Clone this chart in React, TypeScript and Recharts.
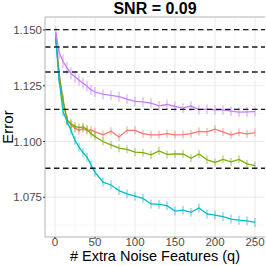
import {
  ComposedChart,
  Line,
  XAxis,
  YAxis,
  ReferenceLine,
  ErrorBar,
} from "recharts";

// number of extra noise features
const qValues = [1, 5, 10, 15, 20, 25, 30, 35, 40, 45, 50, 60, 70, 80, 90, 100, 110, 120, 130, 140, 150, 160, 170, 180, 190, 200, 210, 220, 230, 240, 250];

const redValues = [1.1465, 1.131, 1.119, 1.11, 1.1075, 1.106, 1.105, 1.1058, 1.105, 1.1052, 1.1044, 1.103, 1.1046, 1.102, 1.105, 1.105, 1.1035, 1.103, 1.103, 1.1035, 1.103, 1.1031, 1.1035, 1.1045, 1.1043, 1.1055, 1.1043, 1.103, 1.104, 1.1034, 1.104];
const redErr = [0.002, 0.0022, 0.0022, 0.002, 0.002, 0.0019, 0.0019, 0.0018, 0.0018, 0.0018, 0.0018, 0.0018, 0.0018, 0.0018, 0.0018, 0.0018, 0.0018, 0.0018, 0.0018, 0.0018, 0.0018, 0.0018, 0.0018, 0.0018, 0.0018, 0.0018, 0.0018, 0.0018, 0.0018, 0.0018, 0.0018];

const greenValues = [1.1465, 1.13, 1.118, 1.1095, 1.108, 1.1068, 1.1062, 1.1065, 1.1055, 1.1035, 1.1022, 1.1, 1.0985, 1.097, 1.0965, 1.0952, 1.095, 1.094, 1.0958, 1.0942, 1.0944, 1.0944, 1.0925, 1.0944, 1.0918, 1.0906, 1.092, 1.0909, 1.092, 1.09, 1.0892];
const greenErr = [0.002, 0.0022, 0.0022, 0.002, 0.002, 0.0019, 0.0019, 0.0019, 0.0019, 0.0018, 0.0018, 0.0018, 0.0018, 0.0018, 0.0018, 0.0018, 0.0018, 0.0018, 0.0018, 0.0018, 0.0018, 0.0018, 0.0018, 0.0018, 0.0018, 0.0018, 0.0018, 0.0018, 0.0018, 0.0018, 0.0018];

const tealValues = [1.146, 1.128, 1.1135, 1.109, 1.105, 1.1005, 1.0975, 1.095, 1.093, 1.0895, 1.0862, 1.0818, 1.0805, 1.078, 1.0765, 1.0755, 1.0745, 1.072, 1.0718, 1.0712, 1.0688, 1.0692, 1.0682, 1.0702, 1.0675, 1.067, 1.0663, 1.0652, 1.0647, 1.0644, 1.0637];
const tealErr = [0.002, 0.0022, 0.0022, 0.0021, 0.002, 0.002, 0.002, 0.002, 0.002, 0.002, 0.002, 0.002, 0.002, 0.002, 0.002, 0.002, 0.002, 0.002, 0.002, 0.002, 0.002, 0.002, 0.002, 0.002, 0.002, 0.002, 0.002, 0.002, 0.002, 0.002, 0.002];

const purpleValues = [1.1492, 1.14, 1.136, 1.133, 1.1305, 1.129, 1.1275, 1.1262, 1.1248, 1.1232, 1.1222, 1.1212, 1.1207, 1.1201, 1.119, 1.118, 1.1178, 1.1172, 1.116, 1.1166, 1.1157, 1.115, 1.1159, 1.1143, 1.1145, 1.1142, 1.1142, 1.1136, 1.1132, 1.1133, 1.1134];
const purpleErr = [0.0025, 0.003, 0.003, 0.0028, 0.0027, 0.0026, 0.0025, 0.0024, 0.0024, 0.0023, 0.0022, 0.0022, 0.0022, 0.0022, 0.0022, 0.0022, 0.0022, 0.0022, 0.0022, 0.0022, 0.0022, 0.0022, 0.0022, 0.0022, 0.0022, 0.0022, 0.0022, 0.0022, 0.0022, 0.0022, 0.0022];

// dashed reference levels
const dashedLevels = [1.1502, 1.1424, 1.1312, 1.1144, 1.088];

const xTicks = [0, 50, 100, 150, 200, 250];
const xMinor = [25, 75, 125, 175, 225];
const yTicks = [1.075, 1.1, 1.125, 1.15];
const yMinor = [1.0625, 1.0875, 1.1125, 1.1375];

const xDomain = [-12.5, 262.5];
const yDomain = [1.05717, 1.15584];

const data = qValues.map((q, i) => ({
  q,
  red: redValues[i],
  redErr: redErr[i],
  green: greenValues[i],
  greenErr: greenErr[i],
  teal: tealValues[i],
  tealErr: tealErr[i],
  purple: purpleValues[i],
  purpleErr: purpleErr[i],
}));

const series = [
  { key: "red", color: "#F8766D" },
  { key: "green", color: "#7CAE00" },
  { key: "teal", color: "#00BFC4" },
  { key: "purple", color: "#C77CFF" },
];

const font = '"Liberation Sans", Arial, sans-serif';

export default function App() {
  return (
    <div style={{ position: "absolute", left: 0, top: 0, width: 266, height: 266, background: "#fff", fontFamily: font }}>
      <ComposedChart
        width={266}
        height={266}
        data={data}
        margin={{ top: 17, right: 1, bottom: 0, left: 0 }}
      >
        {/* grid, minor then major */}
        {xMinor.map((v) => (
          <ReferenceLine key={"xm" + v} x={v} stroke="#f4f4f4" strokeWidth={0.6} />
        ))}
        {yMinor.map((v) => (
          <ReferenceLine key={"ym" + v} y={v} stroke="#f4f4f4" strokeWidth={0.6} />
        ))}
        {xTicks.map((v) => (
          <ReferenceLine key={"xM" + v} x={v} stroke="#ebebeb" strokeWidth={1} />
        ))}
        {yTicks.map((v) => (
          <ReferenceLine key={"yM" + v} y={v} stroke="#ebebeb" strokeWidth={1} />
        ))}
        <XAxis
          dataKey="q"
          type="number"
          domain={xDomain}
          ticks={xTicks}
          allowDataOverflow
          height={29}
          stroke="#b3b3b3"
          tickSize={2}
          tickMargin={-1}
          tickLine={{ stroke: "#333" }}
          tick={{ fill: "#4d4d4d", fontSize: 11.5, fontFamily: font }}
        />
        <YAxis
          type="number"
          domain={yDomain}
          ticks={yTicks}
          allowDataOverflow
          width={45}
          stroke="#b3b3b3"
          tickSize={2}
          tickMargin={1}
          tickLine={{ stroke: "#333" }}
          tickFormatter={(v: number) => v.toFixed(3)}
          tick={{ fill: "#4d4d4d", fontSize: 11.5, fontFamily: font }}
        />
        <ReferenceLine y={yDomain[1]} stroke="#b3b3b3" strokeWidth={1} />
        {series.map((s) => (
          <Line
            key={s.key}
            dataKey={s.key}
            stroke={s.color}
            strokeWidth={1.3}
            dot={false}
            activeDot={false}
            isAnimationActive={false}
          >
            <ErrorBar
              dataKey={s.key + "Err"}
              direction="y"
              width={0}
              stroke={s.color}
              strokeOpacity={0.5}
              strokeWidth={1.4}
              isAnimationActive={false}
            />
          </Line>
        ))}
        {dashedLevels.map((lvl) => (
          <ReferenceLine
            key={lvl}
            y={lvl}
            stroke="#1a1a1a"
            strokeWidth={1.4}
            strokeDasharray="5.5 3.5"
          />
        ))}
      </ComposedChart>
      <svg
        width={266}
        height={266}
        style={{ position: "absolute", left: 0, top: 0, pointerEvents: "none" }}
      >
        <text x={155} y={13.5} textAnchor="middle" fontSize={16} fontWeight="bold" fill="#000" fontFamily={font}>
          SNR = 0.09
        </text>
        <text x={155} y={261} textAnchor="middle" fontSize={14.5} fill="#000" fontFamily={font}>
          # Extra Noise Features (q)
        </text>
        <text
          x={13}
          y={127}
          textAnchor="middle"
          fontSize={15}
          fill="#000"
          fontFamily={font}
          transform="rotate(-90 13 127)"
        >
          Error
        </text>
      </svg>
    </div>
  );
}
